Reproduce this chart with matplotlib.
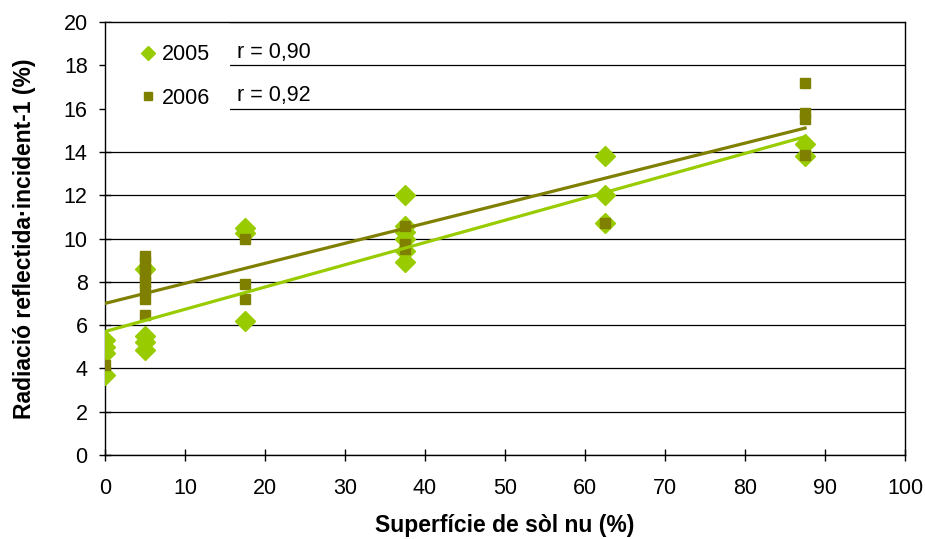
import numpy as np
import matplotlib.pyplot as plt
from matplotlib.patches import Rectangle

plt.rcParams['font.family'] = ['Liberation Sans', 'DejaVu Sans']

# superficie de sol nu (%) and reflected/incident radiation (%)
x_2005 = [0, 0, 0, 0,
          5, 5, 5, 5,
          17.5, 17.5, 17.5,
          37.5, 37.5, 37.5, 37.5, 37.5, 37.5,
          62.5, 62.5, 62.5,
          87.5, 87.5]
y_2005 = [5.3, 5.0, 4.7, 3.7,
          8.6, 5.5, 5.2, 4.85,
          10.5, 10.25, 6.2,
          12.0, 10.6, 10.3, 10.0, 9.4, 8.9,
          13.8, 12.0, 10.7,
          14.35, 13.8]

x_2006 = [0,
          5, 5, 5, 5, 5, 5, 5, 5,
          17.5, 17.5, 17.5,
          37.5, 37.5, 37.5,
          62.5,
          87.5, 87.5, 87.5, 87.5]
y_2006 = [4.15,
          9.2, 8.9, 8.6, 8.3, 8.0, 7.6, 7.2, 6.45,
          10.0, 7.9, 7.2,
          10.6, 9.75, 9.5,
          10.7,
          17.2, 15.8, 15.5, 13.85]

# linear trend lines (intercept, slope)
fit_2005 = (5.7, 0.1029)
fit_2006 = (7.0, 0.0926)
r_2005 = "r = 0,90"
r_2006 = "r = 0,92"

green = '#99CC00'
olive = '#808000'

fig = plt.figure(figsize=(9.25, 5.39), dpi=100)
ax = fig.add_axes([0.1135, 0.156, 0.8650, 0.803])

ax.plot(x_2005, y_2005, 'D', color=green, ms=10, mec=green, ls='none',
        label='2005', zorder=3)
ax.plot(x_2006, y_2006, 's', color=olive, ms=7.5, mec=olive, ls='none',
        label='2006', zorder=4)

xl = np.array([0, 87.5])
ax.plot(xl, fit_2005[0] + fit_2005[1] * xl, color=green, lw=2.3, zorder=5)
ax.plot(xl, fit_2006[0] + fit_2006[1] * xl, color=olive, lw=2.3, zorder=5)

ax.set_xlim(0, 100)
ax.set_ylim(0, 20)
ax.set_xticks(range(0, 101, 10))
ax.set_yticks(range(0, 21, 2))
ax.yaxis.grid(True, color='black', lw=0.9)
ax.set_axisbelow(True)
for s in ax.spines.values():
    s.set_linewidth(1.0)
ax.tick_params(direction='inout', length=9, width=1, labelsize=15.5)
ax.tick_params(axis='x', pad=12)
ax.tick_params(axis='y', pad=8)

ax.set_xlabel('Superfície de sòl nu (%)', fontsize=16.5, fontweight='bold', labelpad=11)
ax.set_ylabel('Radiació reflectida·incident-1 (%)', fontsize=16.5, fontweight='bold', labelpad=20)

# white box behind the legend hides the grid there
ax.add_patch(Rectangle((0, 0.775), 0.156, 0.225, transform=ax.transAxes,
                       facecolor='white', edgecolor='none', zorder=1.5))

leg = ax.legend(loc='upper left', bbox_to_anchor=(0.030, 0.964), frameon=False,
                fontsize=15.5, labelspacing=1.04, handletextpad=0.05, handlelength=1.2,
                markerscale=0.7, borderpad=0.3, borderaxespad=0)

ax.text(16.5, 18.1, r_2005, fontsize=15.5, ha='left', va='bottom')
ax.text(16.5, 16.1, r_2006, fontsize=15.5, ha='left', va='bottom')

fig.savefig('out.png', dpi=100)
